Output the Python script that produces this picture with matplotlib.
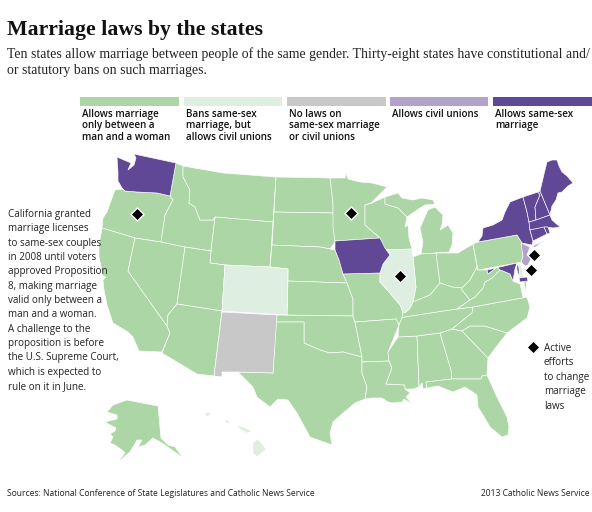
import matplotlib
matplotlib.use("Agg")
import matplotlib.pyplot as plt
from matplotlib.patches import Polygon, Rectangle

TITLE = "Marriage laws by the states"
SUBTITLE = ["Ten states allow marriage between people of the same gender. Thirty-eight states have constitutional and/",
            "or statutory bans on such marriages."]
LEGEND_LABELS = [["Allows marriage", "only between a", "man and a woman"],
                 ["Bans same-sex", "marriage, but", "allows civil unions"],
                 ["No laws on", "same-sex marriage", "or civil unions"],
                 ["Allows civil unions"],
                 ["Allows same-sex", "marriage"]]
LEGEND_COLORS = ["#acd6a5", "#deeee1", "#c8c8c8", "#b5a2cc", "#614897"]
NOTE = ["California granted", "marriage licenses", "to same-sex couples", "in 2008 until voters",
        "approved Proposition", "8, making marriage", "valid only between a", "man and a woman.",
        "A challenge to the", "proposition is before", "the U.S. Supreme Court,", "which is expected to",
        "rule on it in June."]
ACTIVE = ["Active", "efforts", "to change", "marriage", "laws"]
SOURCE = "Sources: National Conference of State Legislatures and Catholic News Service"
CREDIT = "2013 Catholic News Service"

# State outlines in picture coordinates
WA = [(134,154),(176,163),(170,196),(157,193),(137,192),(125,191),(122,188),(118,181),(118,172),(117,157),(124,160),(131,163),(128,170),(134,165),(136,158)]
OR = [(122,189),(125,191),(137,192),(157,193),(170,196),(173,200),(165,215),(161,242),(135,238),(102,228),(103,218),(107,212),(115,190)]
CA = [(102,228),(135,238),(128,271),(167,326),(170,333),(162,352),(139,351),(133,337),(128,332),(113,323),(107,305),(104,290),(103,280),(106,277),(103,276),(99,257),(99,245)]
NV = [(135,238),(161,242),(185,247),(177,304),(168,315),(167,326),(128,271)]
ID = [(176,163),(183,166),(183,177),(190,190),(189,203),(195,207),(200,220),(213,220),(215,217),(211,251),(185,247),(161,242),(165,215),(173,200),(170,196)]
MT = [(183,166),(223,173),(276,177),(273,222),(215,217),(213,220),(200,220),(195,207),(189,203),(190,190),(183,177)]
WY = [(215,217),(273,222),(270,267),(225,265),(210,263),(211,251)]
UT = [(185,247),(211,251),(210,263),(225,265),(222,311),(177,304)]
AZ = [(177,304),(222,311),(214,376),(197,374),(162,353),(170,333),(167,326),(168,315)]
CO = [(225,265),(270,267),(288,269),(287,315),(222,311)]
NM = [(222,312),(277,315),(273,373),(238,372),(222,372),(222,377),(214,376)]
ND = [(276,177),(330,178),(333,203),(333,213),(274,212)]
SD = [(274,212),(333,213),(335,228),(335,242),(330,249),(320,247),(272,245)]
NE = [(272,245),(320,247),(330,249),(335,250),(339,260),(343,274),(347,283),(288,281),(288,269),(270,267)]
KS = [(288,281),(347,283),(353,299),(353,316),(287,315)]
OK = [(277,315),(353,316),(355,322),(362,357),(343,352),(330,353),(320,350),(304,343),(304,322),(276,322)]
TX = [(276,322),(304,322),(304,343),(320,350),(330,353),(343,352),(362,357),(362,373),(367,387),(365,399),(355,403),(343,413),(333,422),(330,433),(332,445),(310,437),(297,413),(288,400),(278,399),(270,407),(257,397),(253,387),(238,372),(273,373)]
MN = [(330,178),(345,178),(346,173),(348,179),(360,182),(372,183),(387,187),(371,203),(365,205),(365,225),(380,238),(335,241),(333,227),(333,213),(333,203)]
IA = [(335,241),(380,238),(385,248),(390,255),(383,264),(380,273),(343,274),(339,260),(335,250)]
MO = [(343,274),(380,273),(380,282),(390,293),(400,305),(403,312),(402,318),(399,325),(396,319),(355,322),(353,316),(353,299),(347,283)]
AR = [(355,322),(396,319),(399,325),(388,352),(389,361),(362,362),(362,357)]
LA = [(362,362),(389,361),(392,368),(386,384),(405,385),(405,389),(410,393),(406,397),(412,404),(404,399),(402,402),(393,403),(388,402),(382,398),(372,398),(365,399),(367,387),(362,373)]
MS = [(398,337),(417,336),(419,387),(413,389),(405,389),(405,385),(386,384),(392,368),(389,361),(388,352)]
AL = [(417,336),(440,333),(451,370),(452,379),(426,382),(427,388),(423,389),(422,383),(419,387)]
GA = [(440,333),(452,329),(462,331),(488,358),(487,375),(482,376),(481,379),(452,379),(451,370)]
SC = [(462,331),(470,326),(485,326),(507,333),(490,355),(488,358)]
FL = [(487,375),(497,397),(507,417),(509,427),(508,435),(502,437),(490,427),(483,415),(478,407),(477,395),(465,387),(453,392),(438,386),(427,388),(426,382),(452,379),(481,379),(482,376)]
WI = [(372,203),(385,197),(385,204),(398,208),(407,217),(405,227),(408,225),(409,238),(412,249),(383,250),(380,238),(365,225),(365,205)]
MI_N = [(385,197),(398,193),(402,198),(413,200),(422,198),(433,200),(435,204),(425,205),(417,210),(407,217),(398,208),(385,204)]
MI_S = [(435,207),(443,215),(442,225),(440,230),(448,225),(453,233),(452,245),(449,252),(436,253),(421,254),(423,242),(420,228),(428,210)]
IL = [(383,250),(412,249),(413,257),(416,287),(413,302),(410,308),(405,313),(403,312),(400,305),(390,293),(380,282),(380,273),(383,264),(390,255),(385,248)]
IN = [(413,257),(421,254),(436,253),(440,283),(430,295),(413,302),(416,287)]
OH = [(436,253),(449,253),(458,253),(473,244),(477,267),(470,280),(462,288),(452,287),(440,283)]
KY = [(402,318),(403,312),(405,313),(410,308),(413,302),(430,295),(440,283),(452,287),(462,288),(462,290),(470,300),(457,309),(405,317)]
TN = [(399,325),(402,318),(405,317),(457,309),(473,307),(472,313),(452,329),(440,333),(417,336),(398,337)]
NC = [(473,307),(527,297),(530,307),(527,318),(507,333),(485,326),(470,326),(462,331),(452,329),(472,313)]
VA = [(457,309),(470,300),(475,297),(483,288),(485,282),(492,278),(500,270),(503,271),(510,274),(513,281),(520,284),(523,297),(527,297),(473,307)]
VA_E = [(524,281),(527,281),(525,293)]
WV = [(477,267),(478,270),(487,270),(488,274),(497,267),(500,270),(492,278),(485,282),(483,288),(475,297),(470,300),(462,290),(462,288),(470,280)]
PA = [(473,244),(478,242),(517,235),(522,243),(523,257),(521,262),(517,263),(478,270)]
MD_W = [(487,270),(517,263),(515,269),(513,281),(510,274),(503,271),(500,270),(497,267),(488,274)]
MD_E = [(517,263),(519,268),(519,278),(527,277),(528,281),(520,282),(517,270)]
DE = [(518,263),(521,265),(524,278),(519,278)]
NJ = [(521,243),(530,247),(527,255),(532,257),(528,265),(525,266),(521,262),(523,257)]
NY = [(478,242),(482,236),(483,228),(493,225),(502,220),(505,212),(510,202),(523,197),(527,212),(529,222),(530,230),(533,241),(532,245),(522,243),(517,235)]
NY_LI = [(532,247),(545,240),(535,247)]
VT = [(523,197),(538,192),(540,195),(535,207),(536,220),(529,222),(527,212)]
NH = [(538,192),(540,191),(550,215),(536,220),(535,207),(540,195)]
ME = [(540,191),(545,170),(547,162),(552,160),(557,160),(559,166),(562,172),(567,176),(573,183),(568,186),(562,192),(558,193),(556,200),(552,206),(550,215)]
MA = [(529,222),(536,220),(550,215),(552,220),(560,227),(553,228),(546,227),(530,230)]
CT = [(530,230),(544,227),(547,234),(533,241)]
RI = [(544,227),(548,227),(550,233),(547,234)]
AK = [(127,400),(137,402),(158,406),(161,438),(168,445),(175,447),(183,458),(175,452),(162,443),(153,438),(145,445),(138,447),(142,440),(137,440),(130,452),(117,463),(125,453),(122,450),(115,445),(110,443),(113,437),(110,434),(115,431),(116,428),(105,422),(117,419),(117,415),(107,412),(113,405)]
HI_KAUAI = [(205,413),(210,412),(210,416),(206,416)]
HI_OAHU = [(225,419),(229,421),(230,424),(226,423)]
HI_MAUI = [(237,425),(243,427),(252,431),(247,433),(241,430)]
HI_BIG = [(253,443),(258,439),(266,449),(257,457),(253,453)]

MARRIAGE_ONLY = [OR,CA,NV,ID,MT,WY,UT,AZ,ND,SD,NE,KS,OK,TX,MN,MO,AR,LA,MS,AL,GA,SC,FL,WI,MI_N,MI_S,IN,OH,KY,TN,NC,VA,VA_E,WV,PA,AK]
CIVIL_BAN = [CO,IL,DE,HI_KAUAI,HI_OAHU,HI_MAUI,HI_BIG]
NO_LAWS = [NM]
CIVIL_UNIONS = [NJ]
SAME_SEX = [WA,IA,MD_W,MD_E,NY,NY_LI,VT,NH,ME,MA,CT,RI]
GROUPS = [MARRIAGE_ONLY, CIVIL_BAN, NO_LAWS, CIVIL_UNIONS, SAME_SEX]

DIAMOND_X = [137, 351, 400, 534, 531, 533]
DIAMOND_Y = [214, 213, 276, 255, 270, 347]

LEGEND_LEFT = [80, 184, 287, 390, 493]
LEGEND_WIDTH = [99, 98, 99, 98, 99]

SANS = "Open Sans"
SERIF = "Liberation Serif"

fig = plt.figure(figsize=(5.92, 5.12), dpi=100, facecolor="white")
ax = fig.add_axes([0, 0, 1, 1])
ax.set_xlim(0, 592)
ax.set_ylim(512, 0)
ax.axis("off")

for group, color in zip(GROUPS, LEGEND_COLORS):
    for outline in group:
        ax.add_patch(Polygon(outline, closed=True, facecolor=color, edgecolor="white", linewidth=0.45, joinstyle="round"))

ax.scatter(DIAMOND_X, DIAMOND_Y, marker="D", s=44, color="black", edgecolor="white", linewidth=1, zorder=5)

ax.text(7, 35, TITLE, family=SERIF, weight="bold", fontsize=15.7, color="#111111", va="baseline")
for i, line in enumerate(SUBTITLE):
    ax.text(7, 58 + i * 16, line, family=SERIF, fontsize=9.88, color="#222222", va="baseline")

for left, width, color, lines in zip(LEGEND_LEFT, LEGEND_WIDTH, LEGEND_COLORS, LEGEND_LABELS):
    ax.add_patch(Rectangle((left, 97.3), width, 8.7, facecolor=color, edgecolor="none"))
    for i, line in enumerate(lines):
        ax.text(left + 2, 117 + i * 11.3, line, family=SANS, weight="semibold", fontsize=7.15, color="#111111", va="baseline")

for i, line in enumerate(NOTE):
    ax.text(8, 217 + i * 14.33, line, family=SANS, fontsize=7.1, color="#222222", va="baseline", zorder=6)
for i, line in enumerate(ACTIVE):
    ax.text(544, 351 + i * 14.4, line, family=SANS, fontsize=7.1, color="#222222", va="baseline")

ax.text(7, 496, SOURCE, family=SANS, fontsize=6.14, color="#222222", va="baseline")
ax.text(590, 496, CREDIT, family=SANS, fontsize=6.14, color="#222222", va="baseline", ha="right")

fig.savefig("out.png", dpi=100)
